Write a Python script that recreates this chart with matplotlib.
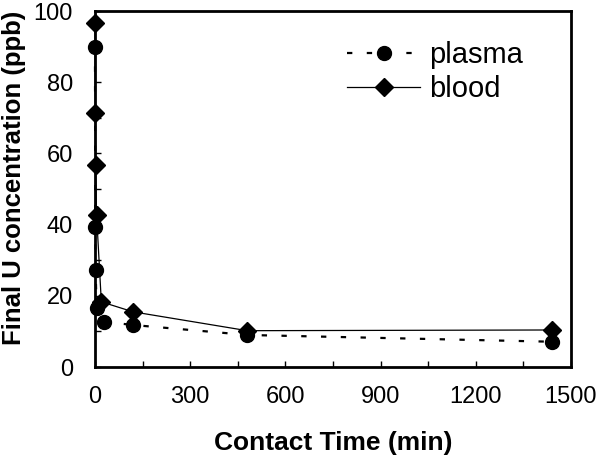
import matplotlib
matplotlib.use("Agg")
import matplotlib.pyplot as plt
from matplotlib.ticker import MultipleLocator

# contact time (min) and final U concentration (ppb)
plasma_t = [0, 1, 2, 5, 30, 120, 480, 1440]
plasma_u = [90, 39.4, 27.2, 16.6, 12.7, 11.8, 9.0, 7.1]
blood_t = [0, 1, 2, 5, 20, 120, 480, 1440]
blood_u = [96.5, 71.3, 56.7, 42.7, 18.3, 15.5, 10.2, 10.4]

plt.rcParams["font.family"] = ["Liberation Sans", "DejaVu Sans"]

fig = plt.figure(figsize=(6, 4.55), dpi=100)
ax = fig.add_axes([0.1583, 0.1934, 0.7933, 0.7824])

ax.plot(plasma_t, plasma_u, color="black", lw=1.6, dashes=(2.4, 6.5),
        marker="o", ms=10, clip_on=False, label="plasma")
ax.plot(blood_t, blood_u, color="black", lw=0.9,
        marker="D", ms=9, clip_on=False, label="blood")

ax.set_xlim(0, 1500)
ax.set_ylim(0, 100)
ax.xaxis.set_major_locator(MultipleLocator(300))
ax.xaxis.set_minor_locator(MultipleLocator(150))
ax.yaxis.set_major_locator(MultipleLocator(20))
ax.yaxis.set_minor_locator(MultipleLocator(10))
ax.tick_params(which="both", direction="in", length=4, width=1, labelsize=17)
ax.tick_params(axis="x", pad=14)
ax.tick_params(axis="y", pad=16)
for s in ax.spines.values():
    s.set_linewidth(2)

ax.set_xlabel("Contact Time (min)", fontsize=19, fontweight="bold", labelpad=16)
ax.set_ylabel("Final U concentration (ppb)", fontsize=18.5, fontweight="bold")
ax.yaxis.set_label_coords(-0.145, 0.53)

ax.legend(loc="upper left", bbox_to_anchor=(0.53, 0.915), frameon=False,
          fontsize=21, handlelength=2.5, handletextpad=0.3, labelspacing=0.2,
          borderpad=0, borderaxespad=0)

fig.savefig("out.png", dpi=100)
